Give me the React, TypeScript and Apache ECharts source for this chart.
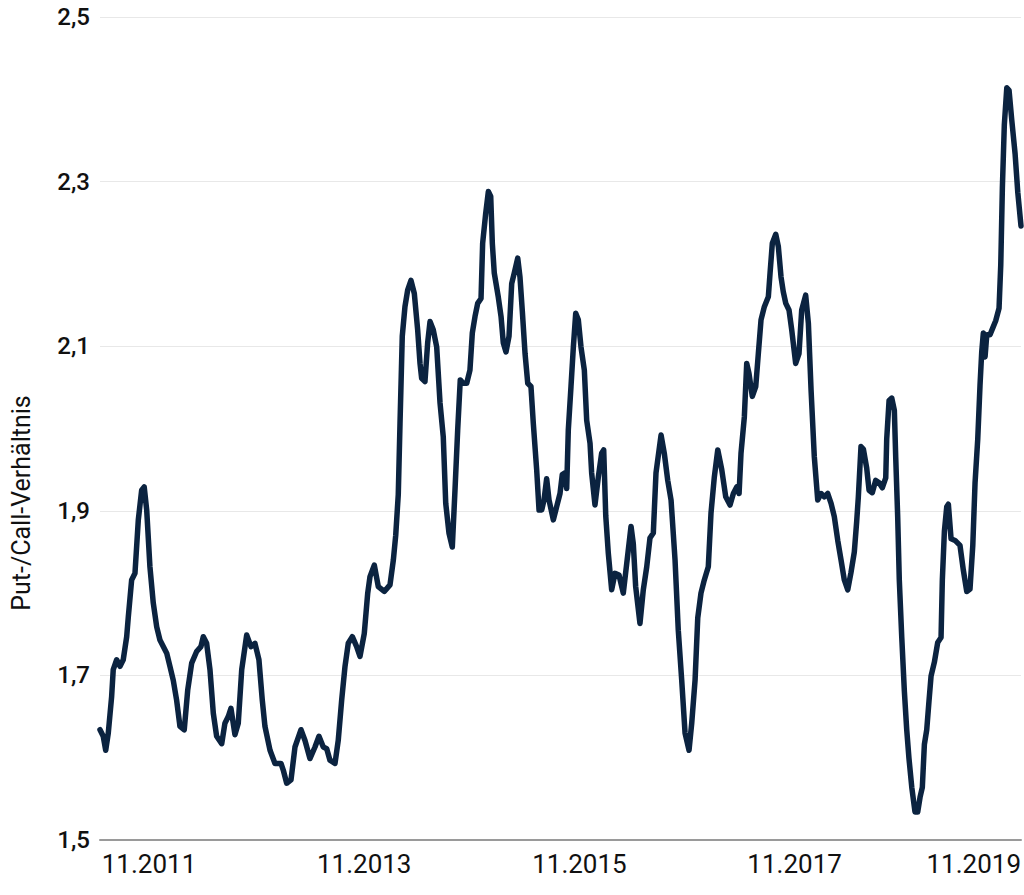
import React, { useEffect, useRef } from "react";
import * as echarts from "echarts";

// Time as decimal years, value = put/call ratio
const dates: number[] = [
  2011.378, 2011.408, 2011.431, 2011.455, 2011.486, 2011.501, 2011.533, 2011.564, 2011.594, 2011.626,
  2011.641, 2011.672, 2011.703, 2011.734, 2011.765, 2011.789, 2011.812, 2011.842, 2011.873, 2011.905,
  2011.935, 2011.966, 2011.998, 2012.028, 2012.059, 2012.090, 2012.121, 2012.161, 2012.193, 2012.230,
  2012.276, 2012.316, 2012.338, 2012.369, 2012.400, 2012.431, 2012.462, 2012.509, 2012.539, 2012.570,
  2012.595, 2012.632, 2012.663, 2012.695, 2012.741, 2012.781, 2012.818, 2012.855, 2012.886, 2012.911,
  2012.958, 2013.004, 2013.060, 2013.081, 2013.113, 2013.153, 2013.190, 2013.246, 2013.283, 2013.329,
  2013.376, 2013.413, 2013.453, 2013.485, 2013.515, 2013.562, 2013.592, 2013.624, 2013.655, 2013.685,
  2013.723, 2013.763, 2013.794, 2013.834, 2013.866, 2013.887, 2013.927, 2013.964, 2014.020, 2014.073,
  2014.104, 2014.126, 2014.150, 2014.166, 2014.187, 2014.212, 2014.237, 2014.268, 2014.299, 2014.330,
  2014.352, 2014.367, 2014.398, 2014.423, 2014.445, 2014.475, 2014.507, 2014.538, 2014.568, 2014.591,
  2014.621, 2014.652, 2014.677, 2014.702, 2014.726, 2014.754, 2014.786, 2014.816, 2014.838, 2014.863,
  2014.888, 2014.919, 2014.934, 2014.962, 2014.987, 2015.009, 2015.024, 2015.042, 2015.079, 2015.105,
  2015.126, 2015.151, 2015.179, 2015.204, 2015.228, 2015.260, 2015.281, 2015.302, 2015.328, 2015.353,
  2015.383, 2015.405, 2015.436, 2015.458, 2015.483, 2015.504, 2015.529, 2015.551, 2015.591, 2015.622,
  2015.653, 2015.674, 2015.699, 2015.715, 2015.730, 2015.755, 2015.777, 2015.799, 2015.823, 2015.848,
  2015.879, 2015.901, 2015.932, 2015.947, 2015.978, 2016.009, 2016.040, 2016.059, 2016.078, 2016.102,
  2016.133, 2016.164, 2016.201, 2016.241, 2016.273, 2016.313, 2016.334, 2016.356, 2016.396, 2016.427,
  2016.459, 2016.489, 2016.520, 2016.545, 2016.592, 2016.622, 2016.654, 2016.685, 2016.722, 2016.752,
  2016.784, 2016.815, 2016.852, 2016.877, 2016.908, 2016.933, 2016.963, 2016.994, 2017.031, 2017.056,
  2017.087, 2017.119, 2017.156, 2017.193, 2017.233, 2017.264, 2017.295, 2017.317, 2017.335, 2017.366,
  2017.388, 2017.409, 2017.440, 2017.472, 2017.496, 2017.521, 2017.552, 2017.589, 2017.605, 2017.626,
  2017.658, 2017.682, 2017.707, 2017.728, 2017.751, 2017.781, 2017.806, 2017.843, 2017.874, 2017.899,
  2017.936, 2017.961, 2017.986, 2018.016, 2018.048, 2018.079, 2018.109, 2018.141, 2018.172, 2018.202,
  2018.234, 2018.265, 2018.295, 2018.327, 2018.357, 2018.388, 2018.410, 2018.425, 2018.450, 2018.472,
  2018.503, 2018.525, 2018.555, 2018.587, 2018.618, 2018.648, 2018.680, 2018.689, 2018.711, 2018.736,
  2018.760, 2018.773, 2018.791, 2018.806, 2018.829, 2018.853, 2018.875, 2018.896, 2018.922, 2018.952,
  2018.977, 2018.999, 2019.020, 2019.039, 2019.061, 2019.082, 2019.101, 2019.132, 2019.163, 2019.194,
  2019.206, 2019.225, 2019.247, 2019.262, 2019.287, 2019.324, 2019.370, 2019.401, 2019.433, 2019.463,
  2019.489, 2019.510, 2019.535, 2019.556, 2019.572, 2019.587, 2019.603, 2019.619, 2019.649, 2019.674,
  2019.702, 2019.733, 2019.749, 2019.764, 2019.782, 2019.805, 2019.826, 2019.851, 2019.882, 2019.907,
  2019.937,
];

const values: number[] = [
  1.634, 1.626, 1.609, 1.630, 1.674, 1.707, 1.719, 1.711, 1.719, 1.747,
  1.771, 1.816, 1.824, 1.889, 1.925, 1.929, 1.901, 1.832, 1.788, 1.759,
  1.743, 1.735, 1.727, 1.711, 1.694, 1.670, 1.638, 1.634, 1.682, 1.715,
  1.729, 1.735, 1.747, 1.739, 1.707, 1.654, 1.626, 1.617, 1.642, 1.650,
  1.660, 1.628, 1.642, 1.707, 1.749, 1.735, 1.739, 1.719, 1.670, 1.638,
  1.609, 1.593, 1.593, 1.585, 1.569, 1.573, 1.613, 1.634, 1.621, 1.599,
  1.613, 1.626, 1.613, 1.611, 1.597, 1.593, 1.621, 1.670, 1.711, 1.739,
  1.747, 1.735, 1.723, 1.751, 1.800, 1.820, 1.834, 1.808, 1.802, 1.810,
  1.840, 1.870, 1.920, 2.006, 2.112, 2.148, 2.168, 2.180, 2.164, 2.120,
  2.079, 2.061, 2.057, 2.104, 2.130, 2.120, 2.099, 2.031, 1.990, 1.909,
  1.873, 1.856, 1.925, 1.998, 2.059, 2.055, 2.055, 2.071, 2.116, 2.136,
  2.152, 2.158, 2.225, 2.261, 2.288, 2.282, 2.225, 2.189, 2.160, 2.136,
  2.104, 2.093, 2.112, 2.176, 2.189, 2.207, 2.184, 2.144, 2.091, 2.055,
  2.051, 2.006, 1.950, 1.901, 1.901, 1.913, 1.939, 1.913, 1.889, 1.905,
  1.921, 1.944, 1.946, 1.927, 1.998, 2.051, 2.099, 2.140, 2.132, 2.099,
  2.071, 2.010, 1.982, 1.946, 1.907, 1.941, 1.970, 1.974, 1.894, 1.848,
  1.804, 1.824, 1.822, 1.800, 1.836, 1.881, 1.860, 1.808, 1.763, 1.804,
  1.832, 1.867, 1.873, 1.946, 1.992, 1.970, 1.937, 1.913, 1.840, 1.755,
  1.694, 1.630, 1.609, 1.642, 1.694, 1.770, 1.800, 1.816, 1.832, 1.897,
  1.941, 1.974, 1.950, 1.917, 1.907, 1.921, 1.929, 1.921, 1.970, 2.014,
  2.079, 2.067, 2.039, 2.051, 2.091, 2.132, 2.148, 2.160, 2.189, 2.225,
  2.236, 2.221, 2.184, 2.166, 2.152, 2.144, 2.120, 2.079, 2.091, 2.144,
  2.162, 2.128, 2.047, 1.966, 1.913, 1.921, 1.917, 1.921, 1.909, 1.893,
  1.864, 1.840, 1.816, 1.804, 1.825, 1.850, 1.887, 1.916, 1.978, 1.975,
  1.952, 1.925, 1.922, 1.937, 1.934, 1.928, 1.940, 1.987, 2.034, 2.037,
  2.022, 1.964, 1.893, 1.816, 1.746, 1.681, 1.634, 1.599, 1.564, 1.534,
  1.534, 1.552, 1.564, 1.616, 1.634, 1.669, 1.699, 1.716, 1.740, 1.746,
  1.816, 1.875, 1.905, 1.908, 1.866, 1.864, 1.858, 1.828, 1.802, 1.805,
  1.858, 1.934, 1.987, 2.052, 2.093, 2.116, 2.087, 2.114, 2.114, 2.122,
  2.131, 2.146, 2.199, 2.293, 2.369, 2.414, 2.411, 2.375, 2.334, 2.287,
  2.246,
];

const labelYears: number[] = [2011, 2013, 2015, 2017, 2019];
const labelMonth = "11";
const yTicks: number[] = [1.5, 1.7, 1.9, 2.1, 2.3, 2.5];
const yTitle = "Put-/Call-Verhältnis";

export default function App() {
  const ref = useRef<HTMLDivElement>(null);

  useEffect(() => {
    document.body.style.margin = "0";
    if (!ref.current) return;
    const chart = echarts.init(ref.current, null, { renderer: "svg" });
    const xMin = dates[0];
    const xMax = dates[dates.length - 1];
    const labelPos = labelYears.map((y) => y + 10 / 12);
    // last label is pushed to the right end of the plot (as in the original)
    labelPos[labelPos.length - 1] = xMax;
    const data = dates.map((d, i) => [d, values[i]]);

    chart.setOption({
      animation: false,
      backgroundColor: "#ffffff",
      grid: { left: 100, right: 3, top: 17, bottom: 55, containLabel: false },
      graphic: [
        {
          type: "text",
          x: 21,
          y: 503,
          rotation: Math.PI / 2,
          style: {
            text: yTitle,
            fontFamily: "Roboto",
            fontSize: 25,
            fill: "#111111",
            align: "center",
            verticalAlign: "middle",
            textAlign: "center",
            textVerticalAlign: "middle",
          },
        },
      ],
      xAxis: {
        type: "value",
        min: xMin,
        max: xMax,
        axisLine: { show: true, lineStyle: { color: "#9a9a9a", width: 2 } },
        axisTick: { show: false },
        splitLine: { show: false },
        axisLabel: {
          customValues: labelPos,
          alignMinLabel: "center",
          alignMaxLabel: "right",
          margin: 11,
          fontFamily: "Roboto",
          fontSize: 26,
          color: "#111111",
          formatter: (v: number) => labelMonth + "." + Math.floor(v),
        },
      },
      yAxis: {
        type: "value",
        min: yTicks[0],
        max: yTicks[yTicks.length - 1],
        interval: 0.2,
        axisLine: { show: false },
        axisTick: { show: false },
        splitLine: { show: true, lineStyle: { color: "#e8e8e8", width: 1 } },
        axisLabel: {
          margin: 10,
          fontFamily: "Roboto",
          fontWeight: 500,
          fontSize: 24,
          color: "#111111",
          formatter: (v: number) => v.toFixed(1).replace(".", ","),
        },
      },
      series: [
        {
          type: "line",
          data,
          showSymbol: false,
          symbol: "none",
          lineStyle: { color: "#0b2340", width: 5.5, cap: "round", join: "round" },
        },
      ],
    });
    return () => chart.dispose();
  }, []);

  return <div ref={ref} style={{ width: 1024, height: 895 }} />;
}
